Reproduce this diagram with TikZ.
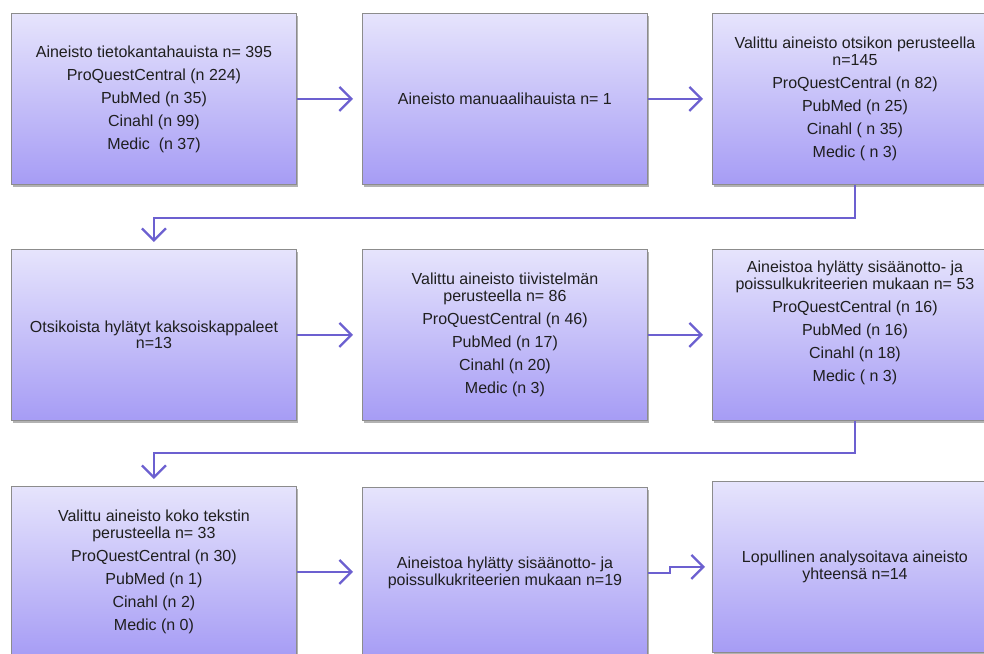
\documentclass[tikz,border=0pt]{standalone}
\usepackage{fontspec}
\setmainfont{Liberation Sans}
\usetikzlibrary{arrows.meta,shadows,calc}
\definecolor{boxtop}{RGB}{230,228,252}
\definecolor{boxbot}{RGB}{166,156,245}
\definecolor{arrcol}{RGB}{108,96,208}
\definecolor{boxline}{RGB}{140,140,140}
\newcommand\pgap{\\[6.5pt]}
\tikzset{
  box/.style={draw=boxline, line width=0.9pt, top color=boxtop, bottom color=boxbot,
    minimum width=285pt, minimum height=171pt, anchor=north west, align=center,
    inner sep=4pt, font=\fontsize{16}{16.5}\selectfont, text=black!88,
    drop shadow={shadow xshift=1.5pt, shadow yshift=-2.5pt, opacity=0.3, fill=black}},
  conn/.style={draw=arrcol, line width=2.3pt,
    -{Straight Barb[length=12pt, width=24pt, line width=2.3pt]}},
}
\begin{document}
\begin{tikzpicture}[x=1pt,y=-1pt]
\useasboundingbox (0,0) rectangle (984,653);
\fill[white] (0,0) rectangle (984,653);
% row 1
\node[box] (b1) at (11,13) {Aineisto tietokantahauista n= 395\pgap ProQuestCentral (n 224)\pgap PubMed (n 35)\pgap Cinahl (n 99)\pgap Medic~~(n 37)};
\node[box] (b2) at (362,13) {Aineisto manuaalihauista n= 1};
\node[box] (b3) at (712,13) {Valittu aineisto otsikon perusteella\\ n=145\pgap ProQuestCentral (n 82)\pgap PubMed (n 25)\pgap Cinahl ( n 35)\pgap Medic ( n 3)};
% row 2
\node[box] (b4) at (11,249) {Otsikoista hylätyt kaksoiskappaleet\\ n=13};
\node[box] (b5) at (362,249) {Valittu aineisto tiivistelmän\\ perusteella n= 86\pgap ProQuestCentral (n 46)\pgap PubMed (n 17)\pgap Cinahl (n 20)\pgap Medic (n 3)};
\node[box] (b6) at (712,249) {Aineistoa hylätty sisäänotto- ja\\ poissulkukriteerien mukaan n= 53\pgap ProQuestCentral (n 16)\pgap PubMed (n 16)\pgap Cinahl (n 18)\pgap Medic ( n 3)\pgap\strut};
% row 3
\node[box] (b7) at (11,486) {Valittu aineisto koko tekstin\\ perusteella n= 33\pgap ProQuestCentral (n 30)\pgap PubMed (n 1)\pgap Cinahl (n 2)\pgap Medic (n 0)};
\node[box] (b8) at (362,487) {Aineistoa hylätty sisäänotto- ja\\ poissulkukriteerien mukaan n=19};
\node[box] (b9) at (712,481) {Lopullinen analysoitava aineisto\\ yhteensä n=14};
% connectors
\draw[conn, shorten >=9pt] (b1.east) -- (b2.west);
\draw[conn, shorten >=9pt] (b2.east) -- (b3.west);
\draw[conn, shorten >=7pt] (b3.south) -- ++(0,33) -| (b4.north);
\draw[conn, shorten >=9pt] (b4.east) -- (b5.west);
\draw[conn, shorten >=9pt] (b5.east) -- (b6.west);
\draw[conn, shorten >=7pt] (b6.south) -- ++(0,32) -| (b7.north);
\draw[conn, shorten >=9pt] (b7.east) -- (b7.east -| b8.west);
\draw[conn, shorten >=7pt] (b8.east) -- ++(22,0) |- (b9.west);
\end{tikzpicture}
\end{document}
